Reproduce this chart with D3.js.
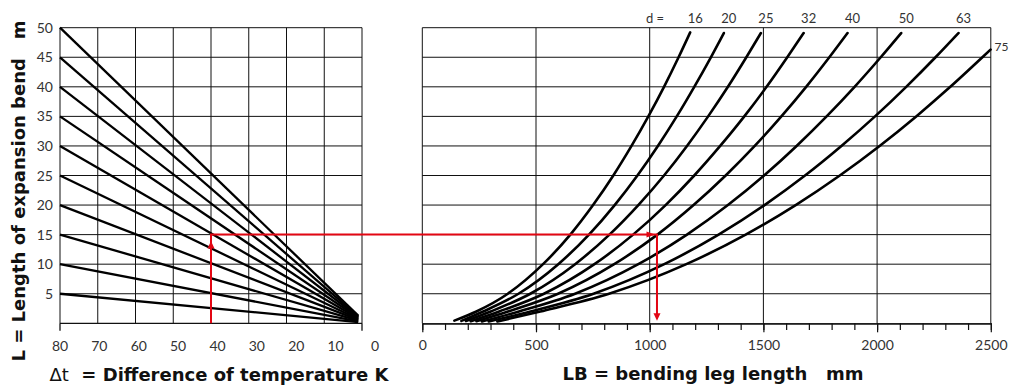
<!DOCTYPE html>
<html>
<head>
<meta charset="utf-8">
<script src="https://cdn.jsdelivr.net/npm/d3@7"></script>
<style>
    html, body { margin: 0; padding: 0; background: #fff; }
    svg { display: block; font-family: Lato, "Open Sans", sans-serif; }
    .title { font-family: "DejaVu Sans", sans-serif; font-weight: 700; font-size: 18px; white-space: pre; }
</style>
</head>
<body>
<div id="chart"></div>
<script>
// left chart: fan of lines, L over temperature difference
const tempTicks = [80, 70, 60, 50, 40, 30, 20, 10, 0];
const lengthTicks = [5, 10, 15, 20, 25, 30, 35, 40, 45, 50];
const fanStartL = [5, 10, 15, 20, 25, 30, 35, 40, 45, 50];
const fanEndL = [0.2, 0.32, 0.44, 0.57, 0.69, 0.81, 0.93, 1.06, 1.18, 1.3];
const fanStartT = 80;
const fanEndT = 1;

// right chart: bending leg length per pipe diameter d
const diameters = [16, 20, 25, 32, 40, 50, 63, 75];
const bendLevels = [2, 5, 10, 15, 20, 25, 30, 35, 40, 45];
const legLengths = [
    [238, 376, 531, 651, 751, 840, 920, 994, 1063, 1127],      // d 16
    [268, 423, 598, 733, 846, 946, 1036, 1119, 1196, 1269],    // d 20
    [301, 475, 672, 823, 950, 1063, 1164, 1257, 1344, 1425],   // d 25
    [338, 535, 757, 927, 1070, 1196, 1310, 1416, 1514, 1605],  // d 32
    [377, 597, 844, 1034, 1193, 1334, 1462, 1579, 1688, 1790], // d 40
    [425, 672, 950, 1164, 1344, 1503, 1646, 1778, 1901, 2016], // d 50
    [476, 753, 1064, 1303, 1505, 1683, 1843, 1991, 2128, 2257],// d 63
    [519, 821, 1161, 1422, 1642, 1836, 2011, 2172, 2322, 2463] // d 75
];
const startLB = [141, 172, 192, 213, 238, 262, 292, 330];
const startL = [0.45, 0.4, 0.4, 0.35, 0.35, 0.3, 0.3, 0.3];
const endLB = [1178, 1326, 1489, 1677, 1870, 2106, 2358, 2499];
const endL = [49.2, 49.1, 49.1, 49.1, 49.1, 49.1, 49.1, 46.3];
const lbTicks = [0, 500, 1000, 1500, 2000, 2500];

// worked example (red arrows)
const exampleT = 40;
const exampleL = 15;
const exampleLB = 1032;

const width = 1010, height = 385;
const red = '#e30613';
const ink = '#111';
const textCol = '#333';

const svg = d3.select('#chart').append('svg')
    .attr('width', width)
    .attr('height', height);

const yL = d3.scaleLinear().domain([0, 50]).range([323.3, 27.7]);
const xT = d3.scaleLinear().domain([80, 0]).range([60, 362]);
// printed labels in the original drift a little to the right of the grid
const xTLabel = d3.scaleLinear().domain([80, 0]).range([60, 375]);
const xLB = d3.scaleLinear().domain([0, 2500]).range([422.3, 990.8]);

// ---- grids
function grid(g, xs, xScale) {
    g.selectAll('.vline').data(xs).enter().append('line')
        .attr('x1', d => xScale(d)).attr('x2', d => xScale(d))
        .attr('y1', yL(50)).attr('y2', yL(0))
        .attr('stroke', ink).attr('stroke-width', 1);
    g.selectAll('.hline').data(lengthTicks).enter().append('line')
        .attr('x1', xScale.range()[0]).attr('x2', xScale.range()[1])
        .attr('y1', d => yL(d)).attr('y2', d => yL(d))
        .attr('stroke', ink).attr('stroke-width', 1);
}

grid(svg.append('g'), tempTicks, xT);
grid(svg.append('g'), lbTicks, xLB);

// ---- left bottom axis
const leftAxis = svg.append('g').attr('transform', `translate(0,${yL(0)})`);
leftAxis.append('line')
    .attr('x1', xT(80)).attr('x2', xT(0))
    .attr('stroke', ink).attr('stroke-width', 1.3);
leftAxis.selectAll('.endtick').data([80, 0]).enter().append('line')
    .attr('x1', d => xT(d)).attr('x2', d => xT(d))
    .attr('y1', 0).attr('y2', 7.5)
    .attr('stroke', ink).attr('stroke-width', 1.3);
leftAxis.selectAll('.lbl').data(tempTicks).enter().append('text')
    .attr('x', d => xTLabel(d))
    .attr('y', 27.4)
    .attr('text-anchor', 'middle')
    .attr('fill', textCol)
    .style('font-size', '14px')
    .text(d => d);

// ---- y tick labels
svg.append('g').selectAll('text').data(lengthTicks).enter().append('text')
    .attr('x', 53)
    .attr('y', d => yL(d) + 5)
    .attr('text-anchor', 'end')
    .attr('fill', textCol)
    .style('font-size', '14px')
    .text(d => d);

// ---- right bottom axis
const minorAxis = d3.axisBottom(xLB)
    .tickValues(d3.range(0, 2501, 100))
    .tickSize(6.7)
    .tickSizeOuter(0)
    .tickFormat('');
const majorAxis = d3.axisBottom(xLB)
    .tickValues(lbTicks)
    .tickSize(9)
    .tickSizeOuter(0)
    .tickPadding(8)
    .tickFormat(d3.format('d'));

const rAxis = svg.append('g').attr('transform', `translate(0,${yL(0)})`);
rAxis.append('g').call(minorAxis);
rAxis.append('g').call(majorAxis);
rAxis.selectAll('path.domain').attr('stroke', ink).attr('stroke-width', 1.3);
rAxis.selectAll('.tick line').attr('stroke', ink).attr('stroke-width', 1.2);
rAxis.selectAll('.tick text')
    .attr('fill', textCol)
    .style('font-size', '14px')
    .style('font-family', 'Lato, "Open Sans", sans-serif');

// ---- fan lines (left)
const fan = svg.append('g');
fan.selectAll('line').data(fanStartL).enter().append('line')
    .attr('x1', xT(fanStartT))
    .attr('y1', d => yL(d))
    .attr('x2', xT(fanEndT))
    .attr('y2', (d, i) => yL(fanEndL[i]))
    .attr('stroke', '#000')
    .attr('stroke-width', 2.3);

// ---- curves (right)
const curveData = diameters.map((d, i) => {
    const pts = [[startLB[i], startL[i]]];
    bendLevels.forEach((lv, j) => pts.push([legLengths[i][j], lv]));
    pts.push([endLB[i], endL[i]]);
    return pts;
});

const lineGen = d3.line()
    .x(p => xLB(p[0]))
    .y(p => yL(p[1]))
    .curve(d3.curveMonotoneX);

svg.append('g').selectAll('path').data(curveData).enter().append('path')
    .attr('d', lineGen)
    .attr('fill', 'none')
    .attr('stroke', '#000')
    .attr('stroke-width', 2.6)
    .attr('stroke-linecap', 'round');

// ---- curve labels
const labels = svg.append('g')
    .attr('fill', textCol)
    .style('font-size', '13px');
labels.append('text')
    .attr('x', 655).attr('y', 23.3)
    .attr('text-anchor', 'middle')
    .text('d =');
labels.selectAll('.dl').data(diameters).enter().append('text')
    .attr('x', (d, i) => endL[i] > 48 ? xLB(endLB[i]) + 5 : xLB(endLB[i]) + 4)
    .attr('y', (d, i) => endL[i] > 48 ? 23.3 : yL(endL[i]) + 1)
    .attr('text-anchor', (d, i) => endL[i] > 48 ? 'middle' : 'start')
    .style('font-size', (d, i) => endL[i] > 48 ? '13px' : '12px')
    .text(d => d);

// ---- red example path
const ex0 = xT(exampleT), ey = yL(exampleL), ex1 = xLB(exampleLB), ey0 = yL(0);
const arrows = svg.append('g');
arrows.append('path')
    .attr('d', `M${ex0},${ey0}V${ey}H${ex1}V${ey0 - 6}`)
    .attr('fill', 'none')
    .attr('stroke', red)
    .attr('stroke-width', 2);
arrows.append('path')  // up
    .attr('d', `M${ex0},${ey + 6.5}L${ex0 - 3.5},${ey + 14}L${ex0 + 3.5},${ey + 14}Z`)
    .attr('fill', red);
arrows.append('path')  // right
    .attr('d', `M${ex1 - 2},${ey}L${ex1 - 10.5},${ey - 3}L${ex1 - 10.5},${ey + 3}Z`)
    .attr('fill', red);
arrows.append('path')  // down
    .attr('d', `M${ex1},${ey0 - 2.5}L${ex1 - 3.5},${ey0 - 10}L${ex1 + 3.5},${ey0 - 10}Z`)
    .attr('fill', red);

// ---- axis titles
svg.append('text')
    .attr('class', 'title')
    .attr('transform', `translate(25,191) rotate(-90)`)
    .attr('text-anchor', 'middle')
    .attr('fill', '#111')
    .text('L = Length of expansion bend   m');

const tLeft = svg.append('text')
    .attr('class', 'title')
    .attr('x', 219).attr('y', 380.7)
    .attr('text-anchor', 'middle')
    .attr('fill', '#111');
tLeft.append('tspan').style('font-weight', 400).text('\u0394t');
tLeft.append('tspan').text('  = Difference of temperature K');

svg.append('text')
    .attr('class', 'title')
    .attr('x', 713).attr('y', 380)
    .attr('text-anchor', 'middle')
    .attr('fill', '#111')
    .text('LB = bending leg length   mm');
</script>
</body>
</html>
